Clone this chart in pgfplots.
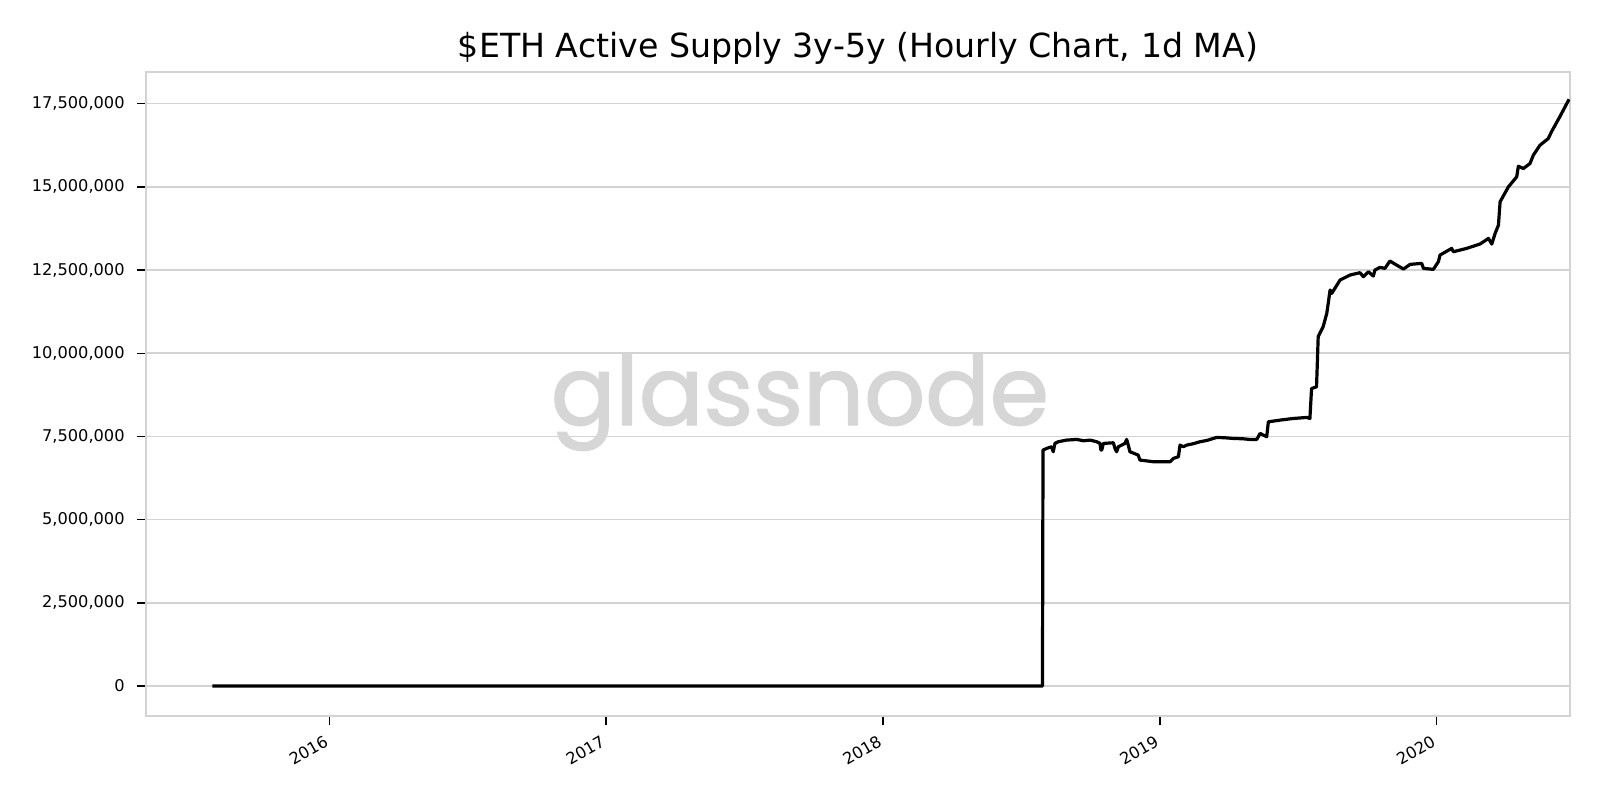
\documentclass[border=0pt]{standalone}
\usepackage{graphicx}
\usepackage{fontspec}
\setmainfont{DejaVu Sans}
\newfontfamily\poppins{Poppins}[FakeBold=1.6]
\usepackage{pgfplots}
\pgfplotsset{compat=1.18}
\definecolor{gridgray}{HTML}{D3D3D3}
\definecolor{wmgray}{HTML}{D6D6D6}
\begin{document}
\begin{tikzpicture}
\path[use as bounding box] (0,0) rectangle (800pt,400pt);
\node[anchor=base, font=\fontsize{16.6}{19}\selectfont] at (429pt,371pt) {\$ETH Active Supply 3y-5y (Hourly Chart, 1d MA)};
\begin{axis}[
  at={(73pt,42pt)}, anchor=south west,
  scale only axis, width=712pt, height=322pt,
  xmin=2015.338, xmax=2020.4815,
  ymin=-900000, ymax=18450000,
  axis line style={gridgray, line width=0.9pt},
  ymajorgrids, major grid style={gridgray, line width=0.8pt},
  xtick={2016,2017,2018,2019,2020},
  xticklabels={2016,2017,2018,2019,2020},
  ytick={0,2500000,5000000,7500000,10000000,12500000,15000000,17500000},
  scaled y ticks=false,
  /pgf/number format/fixed,
  /pgf/number format/precision=0,
  /pgf/number format/1000 sep={,},
  /pgf/number format/assume math mode=true,
  tick align=outside, tick pos=left,
  major tick length=4.5pt,
  tick style={black, line width=0.7pt},
  ticklabel style={font=\fontsize{8.1}{10}\selectfont},
  xticklabel style={xshift=-2.6pt, yshift=-3.3pt, rotate=30, anchor=north east, inner sep=1pt},
  yticklabel style={inner sep=1pt, xshift=-5pt},
  clip=true,
]
\node[anchor=base, text=wmgray] at (axis cs:2017.700,7850000) {\resizebox{249pt}{!}{\poppins glassnode}};
\addplot[black, line width=1.6pt, line join=round] coordinates {
(2015.578,0)
(2018.576,0)
(2018.578,7090000)
(2018.591,7140000)
(2018.609,7190000)
(2018.615,7040000)
(2018.621,7290000)
(2018.633,7340000)
(2018.663,7390000)
(2018.700,7410000)
(2018.724,7370000)
(2018.748,7390000)
(2018.772,7340000)
(2018.784,7290000)
(2018.787,7090000)
(2018.790,7090000)
(2018.796,7290000)
(2018.832,7310000)
(2018.838,7140000)
(2018.844,7040000)
(2018.850,7190000)
(2018.862,7240000)
(2018.874,7290000)
(2018.880,7410000)
(2018.886,7240000)
(2018.892,7040000)
(2018.922,6940000)
(2018.928,6790000)
(2018.977,6740000)
(2019.037,6740000)
(2019.049,6840000)
(2019.067,6890000)
(2019.073,7240000)
(2019.085,7190000)
(2019.097,7240000)
(2019.120,7280000)
(2019.145,7340000)
(2019.170,7380000)
(2019.205,7470000)
(2019.235,7460000)
(2019.265,7440000)
(2019.300,7430000)
(2019.326,7410000)
(2019.350,7410000)
(2019.362,7590000)
(2019.374,7540000)
(2019.386,7490000)
(2019.392,7940000)
(2019.434,7990000)
(2019.482,8040000)
(2019.530,8070000)
(2019.542,8040000)
(2019.548,8940000)
(2019.566,8990000)
(2019.572,10500000)
(2019.590,10800000)
(2019.603,11200000)
(2019.615,11900000)
(2019.621,11800000)
(2019.651,12200000)
(2019.687,12350000)
(2019.723,12420000)
(2019.735,12300000)
(2019.753,12450000)
(2019.771,12320000)
(2019.777,12500000)
(2019.795,12580000)
(2019.813,12550000)
(2019.831,12770000)
(2019.855,12650000)
(2019.880,12530000)
(2019.904,12670000)
(2019.946,12700000)
(2019.952,12550000)
(2019.988,12520000)
(2020.006,12750000)
(2020.012,12950000)
(2020.054,13150000)
(2020.060,13050000)
(2020.108,13150000)
(2020.156,13280000)
(2020.187,13450000)
(2020.199,13280000)
(2020.211,13600000)
(2020.223,13850000)
(2020.229,14550000)
(2020.259,15000000)
(2020.289,15300000)
(2020.295,15620000)
(2020.313,15550000)
(2020.337,15700000)
(2020.349,15950000)
(2020.373,16250000)
(2020.403,16450000)
(2020.415,16660000)
(2020.445,17110000)
(2020.478,17630000)
};
\end{axis}
\end{tikzpicture}
\end{document}
